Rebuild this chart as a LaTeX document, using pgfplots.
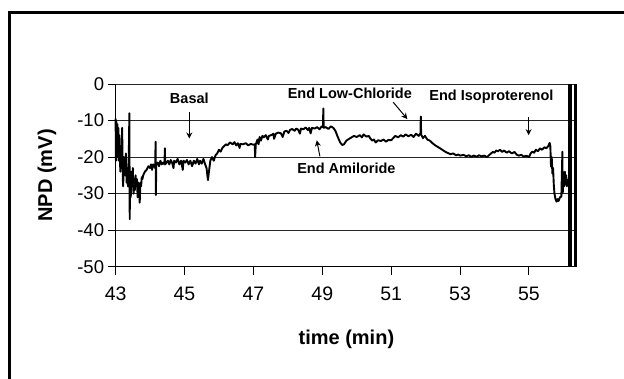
\documentclass[border=0pt]{standalone}
\usepackage{pgfplots}
\pgfplotsset{compat=1.18}
\usepackage{fontspec}
\setmainfont{Liberation Sans}
\usetikzlibrary{arrows.meta}
\begin{document}
\begin{tikzpicture}
\begin{axis}[
  scale only axis,
  width=461.6pt, height=182.7pt,
  xmin=43, xmax=56.4, ymin=-50, ymax=0,
  axis lines=left, axis line style={-, line width=1.3pt, black},
  xtick={43,45,47,49,51,53,55}, xticklabels={43,45,47,49,51,53,55},
  ytick={-50,-40,-30,-20,-10,0}, yticklabels={-50,-40,-30,-20,-10,0},
  tick align=outside, major tick length=8pt,
  tick style={black, line width=1pt},
  xticklabel style={font=\fontsize{19.5}{20}\selectfont, yshift=-9pt},
  yticklabel style={font=\fontsize{18.5}{20}\selectfont},
  ymajorgrids, major grid style={black!85, line width=1pt},
  xlabel={time (min)}, ylabel={NPD (mV)},
  xlabel style={font=\fontsize{20}{22}\selectfont\bfseries, at={(axis description cs:0.5,-0.396)}, anchor=center},
  ylabel style={font=\fontsize{20}{22}\selectfont\bfseries, at={(axis description cs:-0.1487,0.5)}, anchor=center},
  clip=false,
]
\addplot[black, line width=1.9pt, line join=round] coordinates {
(43.00,-9.5) (43.01,-21) (43.02,-10) (43.03,-20) (43.05,-11) (43.06,-19) (43.08,-12) (43.09,-21)
(43.11,-14) (43.12,-20) (43.14,-24) (43.15,-17) (43.17,-22) (43.19,-12) (43.21,-26) (43.22,-28)
(43.24,-20) (43.26,-22) (43.28,-25) (43.30,-19) (43.32,-27) (43.34,-23) (43.36,-28) (43.38,-22)
(43.40,-8) (43.41,-37) (43.42,-25) (43.44,-31) (43.46,-24) (43.48,-28) (43.50,-23) (43.52,-30)
(43.54,-26) (43.56,-29) (43.58,-25) (43.60,-28) (43.62,-26) (43.64,-31) (43.66,-27) (43.68,-29)
(43.70,-32.5) (43.72,-27) (43.74,-28) (43.76,-25.5) (43.78,-26) (43.80,-25) (43.85,-24) (43.90,-23.5)
(43.95,-22.5) (44.00,-23) (44.03,-22) (44.06,-23.5) (44.09,-22) (44.12,-22.5) (44.15,-23) (44.16,-15.8)
(44.17,-30.4) (44.18,-22) (44.22,-21.5) (44.26,-22.5) (44.30,-21) (44.34,-22) (44.38,-21.5) (44.42,-22)
(44.43,-17.6) (44.44,-22) (44.48,-21.5) (44.52,-21) (44.56,-22) (44.60,-20.8) (44.64,-21.5) (44.68,-23)
(44.70,-21) (44.75,-21.5) (44.80,-20.5) (44.85,-22) (44.90,-21) (44.95,-23.5) (44.97,-21) (45.02,-21.5)
(45.07,-20.8) (45.12,-22) (45.17,-21) (45.22,-22.5) (45.27,-21) (45.32,-21.8) (45.37,-20.5) (45.42,-22)
(45.45,-21) (45.50,-21.8) (45.55,-20.5) (45.60,-22) (45.64,-23) (45.68,-26.3) (45.71,-24) (45.75,-21)
(45.80,-20) (45.85,-21) (45.90,-19.5) (45.95,-19) (46.00,-18) (46.05,-18.5) (46.10,-17.5) (46.15,-17)
(46.20,-16.5) (46.25,-16.8) (46.32,-16) (46.40,-16.5) (46.45,-15.9) (46.50,-16.8) (46.55,-16.2) (46.60,-17.5)
(46.62,-16.4) (46.70,-16.5) (46.78,-16.2) (46.85,-16.8) (46.92,-16.4) (47.00,-16.6) (47.04,-16.5) (47.05,-20)
(47.07,-16.5) (47.12,-15.2) (47.15,-16.5) (47.18,-14.5) (47.22,-15.5) (47.26,-14.2) (47.30,-14.6) (47.36,-14)
(47.42,-15.2) (47.45,-14.2) (47.52,-14) (47.58,-13.6) (47.60,-15) (47.65,-13.6) (47.72,-13.3) (47.80,-13.5)
(47.85,-14.5) (47.90,-13) (47.96,-12.8) (48.02,-13.4) (48.06,-12.6) (48.12,-12.3) (48.20,-12.8) (48.24,-12.2)
(48.30,-12.5) (48.35,-13.6) (48.38,-12.2) (48.45,-12.4) (48.52,-11.9) (48.58,-12.6) (48.62,-12) (48.66,-13.5)
(48.70,-12) (48.78,-12.2) (48.85,-11.8) (48.92,-12.4) (48.98,-11.6) (49.02,-11.8) (49.03,-6.7) (49.04,-12)
(49.10,-11.8) (49.18,-12.3) (49.25,-11.6) (49.32,-12) (49.38,-12.8) (49.45,-14.5) (49.52,-16) (49.58,-16.7)
(49.63,-16.5) (49.70,-15.5) (49.78,-15) (49.85,-14.6) (49.92,-14.2) (50.00,-14.5) (50.09,-14) (50.15,-14.6)
(50.20,-13.8) (50.28,-14.4) (50.35,-14.2) (50.40,-15) (50.45,-15.5) (50.50,-15.2) (50.55,-16) (50.62,-15.4)
(50.70,-15.6) (50.78,-15.2) (50.85,-15.8) (50.92,-15.3) (51.00,-15.4) (51.06,-14.8) (51.12,-14.2) (51.20,-14.6)
(51.28,-14) (51.35,-14.4) (51.42,-13.8) (51.50,-14.3) (51.58,-13.9) (51.65,-14.5) (51.72,-13.6) (51.80,-14.2)
(51.85,-13.5) (51.86,-8.9) (51.87,-13.8) (51.92,-14.8) (51.98,-14.2) (52.05,-15.2) (52.12,-15.5) (52.20,-16.2)
(52.28,-16.8) (52.35,-17.2) (52.42,-17.6) (52.50,-18.1) (52.58,-18.6) (52.65,-18.9) (52.72,-19.2) (52.80,-19)
(52.88,-19.5) (52.95,-19.3) (53.00,-19.6) (53.10,-19.4) (53.18,-19.8) (53.25,-19.5) (53.32,-19.9) (53.40,-19.6)
(53.48,-19.9) (53.55,-19.5) (53.62,-19.8) (53.70,-19.6) (53.78,-20) (53.85,-19.4) (53.90,-19) (53.95,-18.6)
(54.00,-18.8) (54.05,-18.2) (54.10,-18.4) (54.16,-18) (54.22,-18.6) (54.28,-18.2) (54.35,-18.8) (54.42,-18.4)
(54.50,-19) (54.58,-18.6) (54.64,-19.3) (54.70,-19.6) (54.78,-19.4) (54.85,-19.9) (54.92,-19.6) (55.00,-20)
(55.05,-19) (55.10,-18.5) (55.15,-18.8) (55.20,-18) (55.26,-18.4) (55.32,-17.6) (55.38,-18) (55.45,-17.3)
(55.50,-17.6) (55.56,-17) (55.60,-16.1) (55.62,-17) (55.64,-22.6) (55.66,-20) (55.68,-24.5) (55.70,-23)
(55.72,-27.5) (55.74,-30) (55.77,-31.5) (55.80,-32.2) (55.83,-31.5) (55.86,-32) (55.90,-31) (55.94,-30.8)
(55.97,-18.5) (55.98,-29.9) (56.00,-26) (56.02,-28) (56.04,-24) (56.06,-27.5) (56.08,-25) (56.10,-28) (56.12,-26)
};
\addplot[black, line width=4pt] coordinates {(56.19,0) (56.19,-50)};
\addplot[black, line width=3pt] coordinates {(56.35,0) (56.35,-50)};
\node[font=\fontsize{14.5}{16}\selectfont\bfseries] at (axis cs:45.14,-3.8) {Basal};
\draw[-{Stealth[length=6pt,width=6pt]}, line width=1pt] (axis cs:45.14,-7.6) -- (axis cs:45.14,-14.9);
\node[font=\fontsize{14.5}{16}\selectfont\bfseries] at (axis cs:49.80,-2.5) {End Low-Chloride};
\draw[-{Stealth[length=6pt,width=6pt]}, line width=1pt] (axis cs:51.06,-5.0) -- (axis cs:51.47,-9.6);
\node[font=\fontsize{14.5}{16}\selectfont\bfseries] at (axis cs:53.91,-3.6) {End Isoproterenol};
\draw[-{Stealth[length=6pt,width=6pt]}, line width=1pt] (axis cs:54.99,-9.0) -- (axis cs:54.99,-14.0);
\node[font=\fontsize{14.5}{16}\selectfont\bfseries] at (axis cs:49.70,-23.1) {End Amiloride};
\draw[-{Stealth[length=6pt,width=6pt]}, line width=1pt] (axis cs:48.93,-19.8) -- (axis cs:48.84,-15.4);
\end{axis}
\path[use as bounding box] (-115.6pt,-112.3pt) rectangle (508.4pt,266.7pt);
\draw[line width=3pt] (-105.6pt,-112.3pt) -- (-105.6pt,253.7pt) -- (508.4pt,253.7pt);
\end{tikzpicture}
\end{document}
